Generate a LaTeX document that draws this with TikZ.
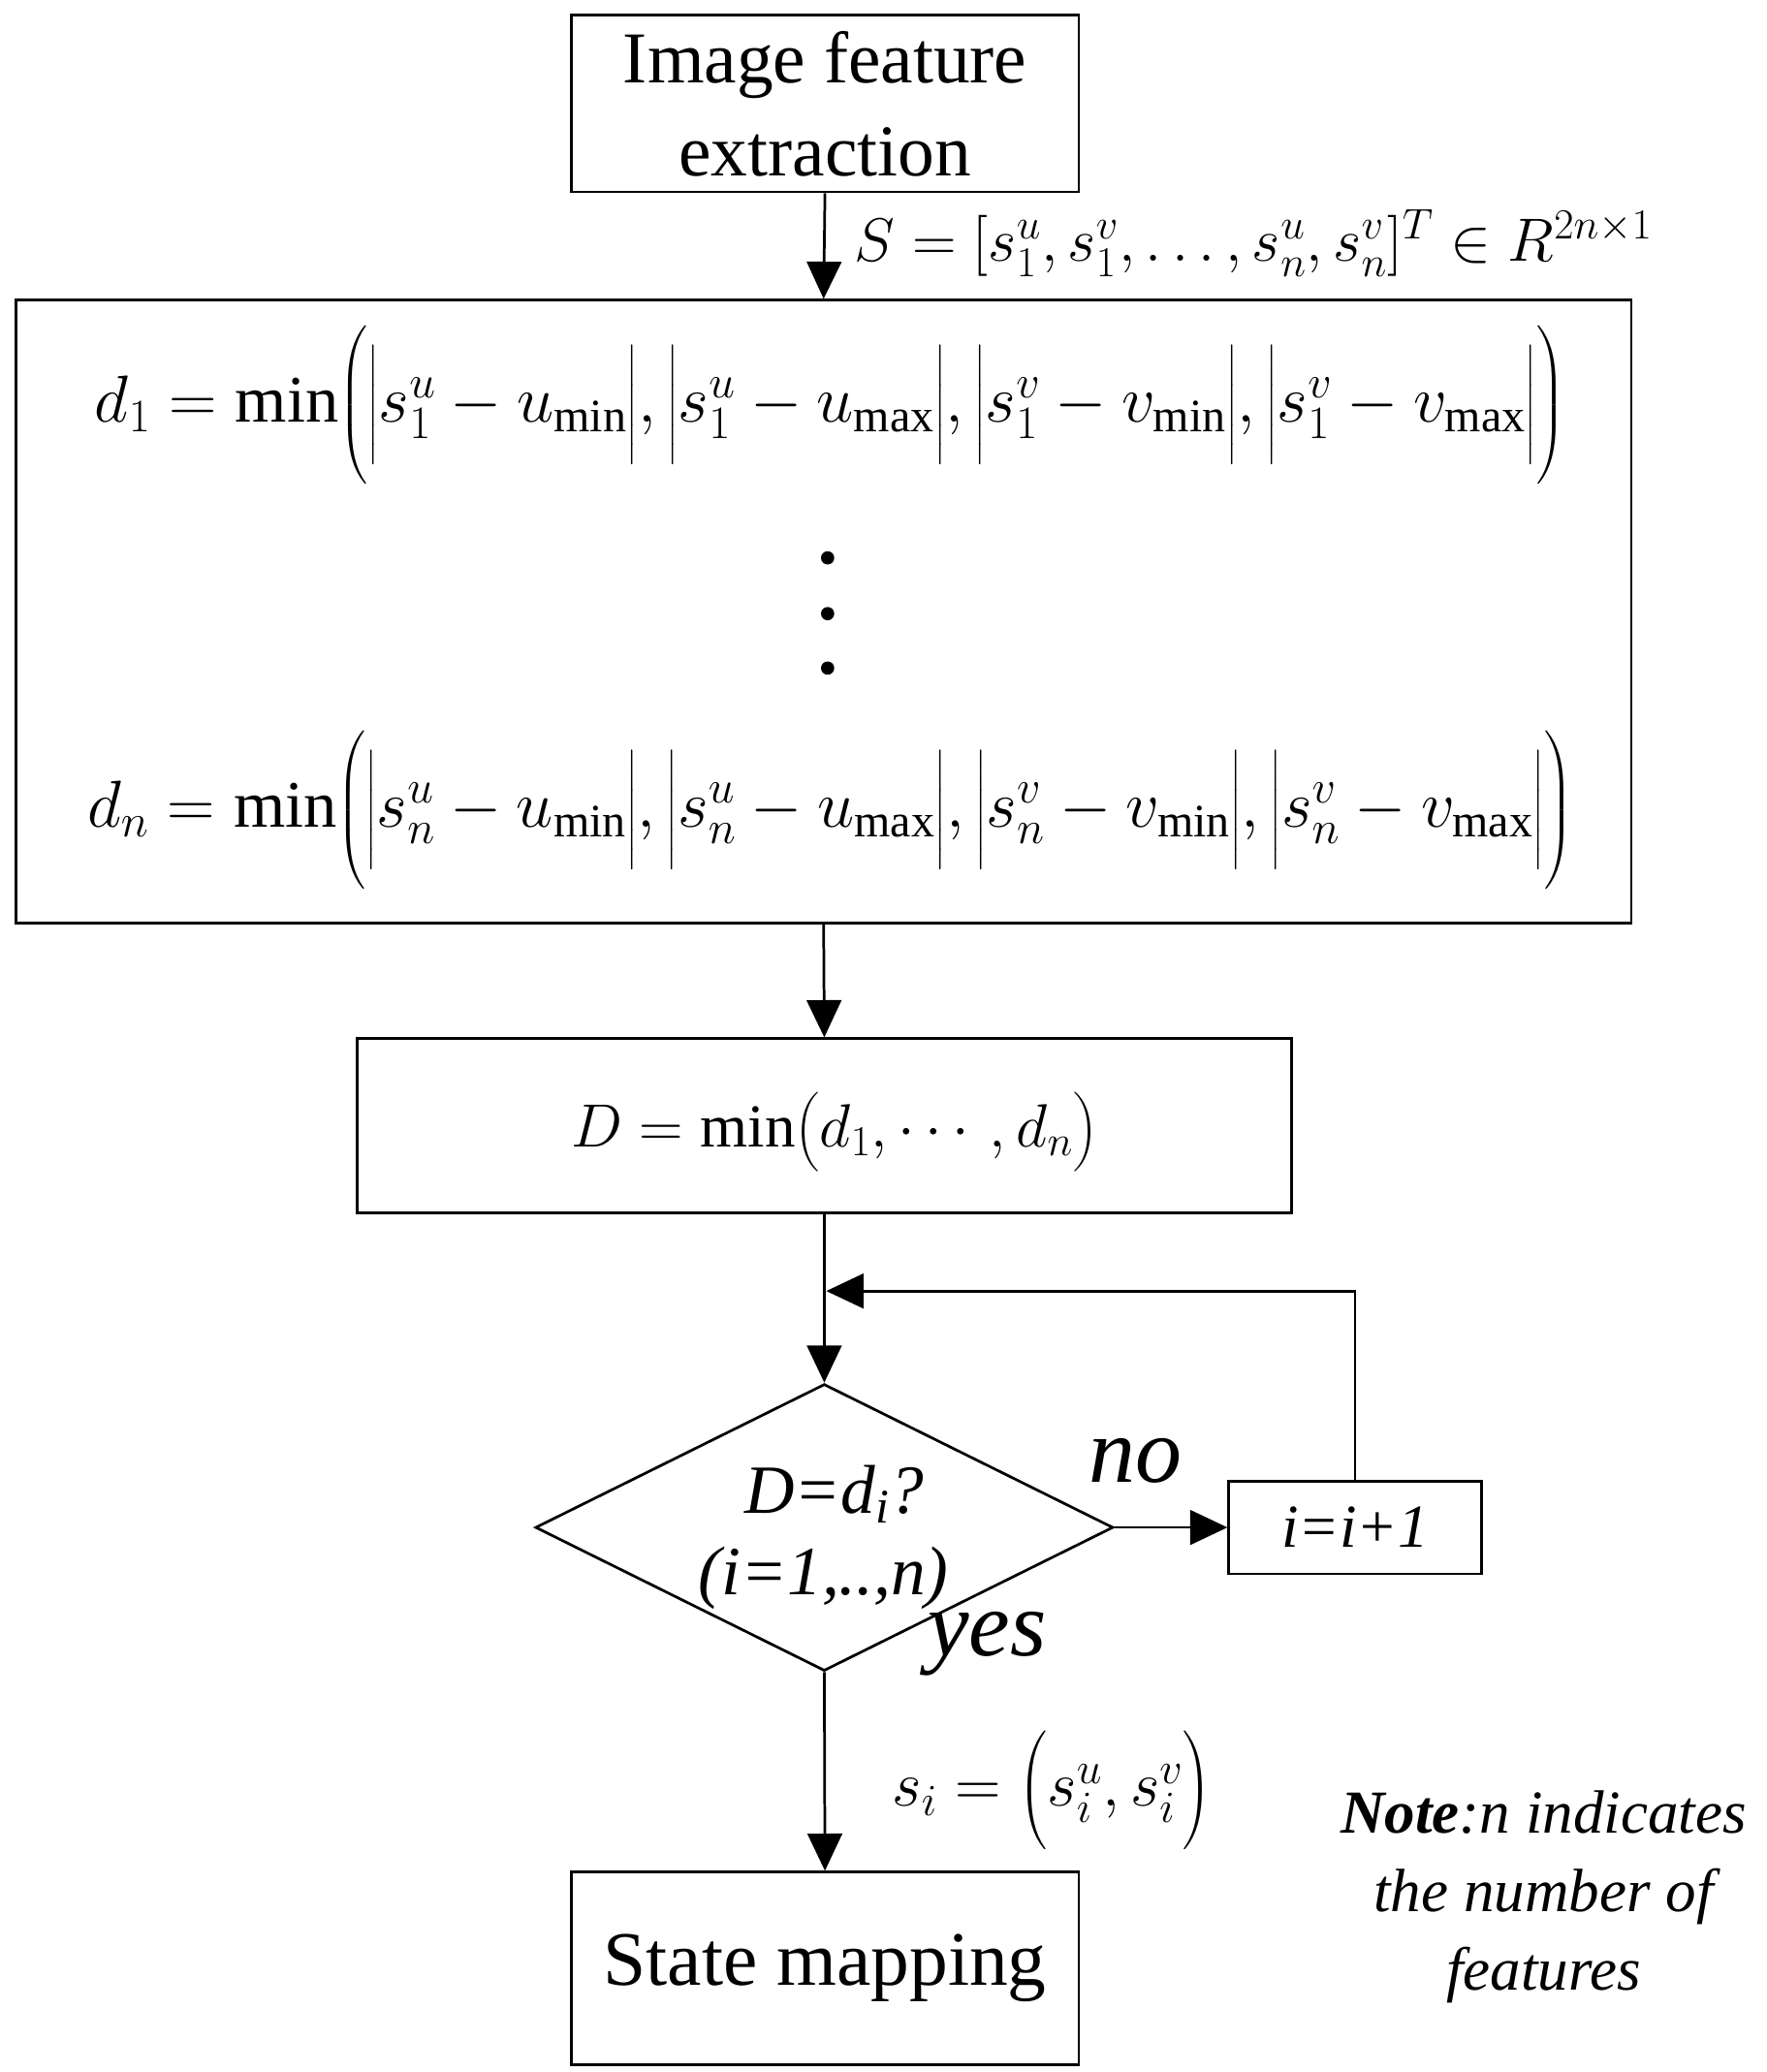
\documentclass[tikz,border=0pt]{standalone}
\usepackage{fix-cm}
\usepackage{amsmath}
\usepackage{fontspec}
\setmainfont{Liberation Serif}
\usetikzlibrary{arrows.meta,shapes.geometric}
\newcommand{\ab}[1]{\Bigl|#1\Bigr|}
\begin{document}
\begin{tikzpicture}[x=1pt,y=-1pt,
  box/.style={draw,line width=2pt,inner sep=0pt},
  arr/.style={line width=2pt,-{Triangle[length=28pt,width=26pt]}},
  mid/.style={font=\fontsize{46}{54}\selectfont},
  frm/.style={font=\fontsize{50}{58}\selectfont}]
\useasboundingbox (0,0) rectangle (1330,1560);
\node[box,minimum width=382pt,minimum height=133pt,font=\fontsize{55}{70}\selectfont,align=center] (b1) at (621,78) {Image feature\\extraction};
\node[box,minimum width=1216pt,minimum height=469pt] (b2) at (620,460.5) {};
\node[box,minimum width=703pt,minimum height=131pt] (b3) at (620.5,847.5) {};
\node[draw,diamond,line width=2pt,minimum width=435pt,minimum height=216pt,inner sep=0pt,aspect=2] (dm) at (620.5,1150) {};
\node[box,minimum width=190pt,minimum height=70pt] (bi) at (1020,1150) {};
\node[box,minimum width=382pt,minimum height=145pt,font=\fontsize{58}{66}\selectfont] (b4) at (621,1482) {State mapping};
% texts
\node[mid,anchor=west] (sl) at (640,183) {$S=[s_1^u,s_1^v,\ldots,s_n^u,s_n^v]^T\in R^{2n\times 1}$};
\node[frm] (d1) at (625,305) {$d_1=\min\biggl(\ab{s_1^u-u_{\min}},\ab{s_1^u-u_{\max}},\ab{s_1^v-v_{\min}},\ab{s_1^v-v_{\max}}\biggr)$};
\node[frm] (dn) at (625,610) {$d_n=\min\biggl(\ab{s_n^u-u_{\min}},\ab{s_n^u-u_{\max}},\ab{s_n^v-v_{\min}},\ab{s_n^v-v_{\max}}\biggr)$};
\fill (623,420) circle (5pt) (623,462) circle (5pt) (623,503) circle (5pt);
\node[mid] (dt) at (628,852) {$D=\min\bigl(d_1,\cdots,d_n\bigr)$};
\node[font=\fontsize{52}{60}\itshape] (t1) at (628,1125) {D=d\textsubscript{i}?};
\node[font=\fontsize{52}{60}\itshape] (t2) at (620,1188) {(i=1,..,n)};
\node[font=\fontsize{70}{80}\itshape] (no) at (855,1100) {no};
\node[font=\fontsize{70}{80}\itshape] (yes) at (743,1238) {yes};
\node[font=\fontsize{46}{54}\itshape] (ti) at (1020,1150) {i=i+1};
\node[font=\fontsize{48}{56}\selectfont] (si) at (792,1348) {$s_i=\Bigl(s_i^u,s_i^v\Bigr)$};
\node[font=\fontsize{46}{59}\itshape,align=center] (note) at (1162,1428) {\textbf{Note}:n indicates\\the number of\\features};
% connectors
\draw[arr] (b1.south) -- (b2.north);
\draw[arr] (b2.south) -- (b3.north);
\coordinate (j) at (622,972);
\draw[arr] (b3.south) -- (dm.north);
\draw[arr] (dm.east) -- (bi.west);
\draw[arr] (bi.north) |- (j);
\draw[arr] (dm.south) -- (b4.north);
\end{tikzpicture}
\end{document}
